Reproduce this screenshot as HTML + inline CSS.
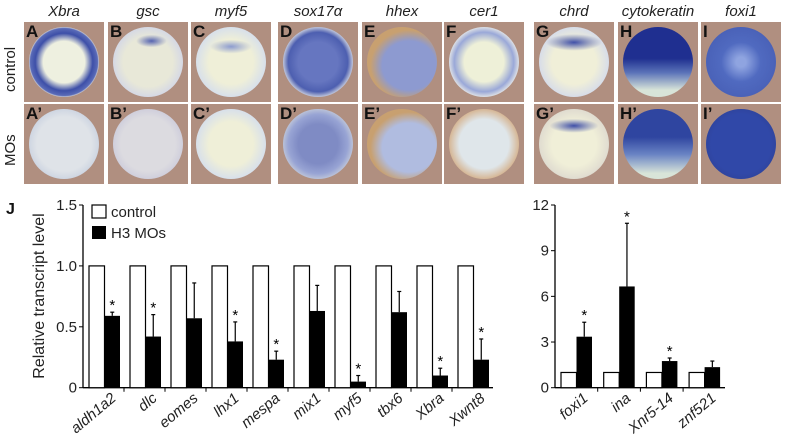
<!DOCTYPE html>
<html><head><meta charset="utf-8"><style>
body{margin:0;background:#fff;width:785px;height:439px;overflow:hidden;position:relative;font-family:"Liberation Sans",sans-serif}
.t{position:absolute;font-style:italic;font-size:15px;color:#222;top:3px;text-align:center;width:84px}
.p{position:absolute;width:80px;height:80px;background:#b08f80;overflow:hidden}
.e{position:absolute;border-radius:50%}
.l{position:absolute;left:2px;top:0;font-weight:bold;font-size:17px;color:#111}
.rl{position:absolute;font-size:15px;color:#222;transform:rotate(-90deg);transform-origin:left top}
</style></head><body>
<div class="rl" style="left:2px;top:92px">control</div>
<div class="rl" style="left:2px;top:166px">MOs</div>
<div id="photos"></div>
<svg id="ch" width="785" height="439" style="position:absolute;left:0;top:0"></svg>
<script>
const cols=[
 {x:24,n:"Xbra",L:"A",a:"radial-gradient(circle,#eef0e0 0 42%,#3d4fa8 58%,#5a6bb8 68%,#ddd 71%)",b:"radial-gradient(circle,#dfe3e8 0 55%,#cfd6e2 70%)"},
 {x:108,n:"gsc",L:"B",a:"radial-gradient(ellipse 22% 9% at 55% 20%,#5563b0,transparent),radial-gradient(circle,#e8e8d8 0 50%,#d6d9e4 70%)",b:"radial-gradient(circle,#dcdbe0 0 55%,#d0cfdc 70%)"},
 {x:191,n:"myf5",L:"C",a:"radial-gradient(ellipse 30% 10% at 50% 28%,#8d9ccf,transparent),radial-gradient(circle,#efefd8 0 45%,#d8e0ea 70%)",b:"radial-gradient(circle,#efefd8 0 45%,#d8e0ea 70%)"},
 {x:278,n:"sox17α",L:"D",a:"radial-gradient(circle,#6676c0 0 40%,#4d5fb0 60%,#b8bfd8 70%)",b:"radial-gradient(circle,#7f8bc4 0 40%,#98a4d4 60%,#b8c0d8 70%)"},
 {x:362,n:"hhex",L:"E",a:"radial-gradient(ellipse at 60% 55%,#8d9ad0 0 45%,#c8a070 65%)",b:"radial-gradient(ellipse at 60% 55%,#b0bce0 0 45%,#c8a070 65%)"},
 {x:444,n:"cer1",L:"F",a:"radial-gradient(circle,#eef0d8 0 40%,#9aa8d8 60%,#d8dce4 70%)",b:"radial-gradient(circle,#dfe6ea 0 50%,#d6b898 70%)"},
 {x:534,n:"chrd",L:"G",a:"radial-gradient(ellipse 40% 12% at 50% 22%,#4050a8,transparent),radial-gradient(circle,#f0efd8 0 45%,#d8dde8 70%)",b:"radial-gradient(ellipse 35% 10% at 50% 24%,#4050a8,transparent),radial-gradient(circle,#f0efd8 0 45%,#e0dcd0 70%)"},
 {x:618,n:"cytokeratin",L:"H",a:"linear-gradient(#1f2f90 0 45%,#5a72b8 65%,#d8e4d8 90%)",b:"linear-gradient(#2f45a0 0 40%,#6a84c4 65%,#d8e4d8 92%)"},
 {x:701,n:"foxi1",L:"I",a:"radial-gradient(circle,#8fa4e0 0 10%,#506ac0 40%,#4a62b8 70%)",b:"radial-gradient(circle,#3048a8 0 60%,#2f45a0 70%)"}
];
const ph=document.getElementById('photos');
cols.forEach(c=>{
 const t=document.createElement('div');t.className='t';t.style.left=(c.x-2)+'px';t.textContent=c.n;
 
 
 ph.appendChild(t);
 [[22,c.a,c.L],[104,c.b,c.L+"’"]].forEach(r=>{
  const p=document.createElement('div');p.className='p';p.style.left=c.x+'px';p.style.top=r[0]+'px';
  
  
  p.innerHTML='<div class="e" style="left:5px;top:5px;width:70px;height:70px;background:'+r[1]+'"></div><div class="l">'+r[2]+'</div>';
  ph.appendChild(p);
 });
});
</script>
<script>
const leftGenes=["aldh1a2","dlc","eomes","lhx1","mespa","mix1","myf5","tbx6","Xbra","Xwnt8"];
const leftCtrl=[1,1,1,1,1,1,1,1,1,1];
const leftMO=[0.59,0.42,0.57,0.38,0.23,0.63,0.05,0.62,0.10,0.23];
const leftErr=[0.62,0.60,0.86,0.54,0.30,0.84,0.10,0.79,0.16,0.40];
const leftSig=[1,1,0,1,1,0,1,0,1,1];
const leftTicks=[0,0.5,1.0,1.5];
const leftTickLabels=["0","0.5","1.0","1.5"];
const rightGenes=["foxi1","ina","Xnr5-14","znf521"];
const rightCtrl=[1,1,1,1];
const rightMO=[3.35,6.65,1.75,1.35];
const rightErr=[4.3,10.8,1.95,1.75];
const rightSig=[1,1,1,0];
const rightTicks=[0,3,6,9,12];
const rightTickLabels=["0","3","6","9","12"];
const NS="http://www.w3.org/2000/svg",svg=document.getElementById('ch');
function el(tag,at,txt){const e=document.createElementNS(NS,tag);for(const k in at)e.setAttribute(k,at[k]);if(txt!=null)e.textContent=txt;svg.appendChild(e);return e;}
function chart(o){
 const y=v=>o.y0-(v/o.max)*(o.y0-o.yTop);
 const x0=o.ax,gx=i=>x0+o.pad+i*o.pitch;
 let a=el('line',{x1:x0,y1:o.yTop,x2:x0,y2:o.y0,stroke:'#000','stroke-width':1.3});
 
 a=el('line',{x1:x0,y1:o.y0,x2:o.axEnd,y2:o.y0,stroke:'#000','stroke-width':1.3});
 
 o.ticks.forEach((t,i)=>{
  el('line',{x1:x0-4,y1:y(t),x2:x0,y2:y(t),stroke:'#000'});
  const tl=el('text',{x:x0-6,y:y(t)+5,'text-anchor':'end','font-size':15,fill:'#222'},o.tickLabels[i]);
  
 });
 o.genes.forEach((g,i)=>{
  const gx0=gx(i);
  if(i>0) el('line',{x1:gx0-o.pad,y1:o.y0,x2:gx0-o.pad,y2:o.y0+4,stroke:'#000'});
  const c=el('rect',{x:gx0,y:y(o.ctrl[i]),width:o.bw,height:o.y0-y(o.ctrl[i]),fill:'#fff',stroke:'#000','stroke-width':1.2});
  
  const m=el('rect',{x:gx0+o.bw,y:y(o.mo[i]),width:o.bw,height:o.y0-y(o.mo[i]),fill:'#000'});
  
  const cx=gx0+o.bw*1.5;
  el('line',{x1:cx,y1:y(o.err[i]),x2:cx,y2:y(o.mo[i]),stroke:'#000','stroke-width':1.2});
  el('line',{x1:cx-2,y1:y(o.err[i]),x2:cx+2,y2:y(o.err[i]),stroke:'#000','stroke-width':1.2});
  if(o.sig[i]){const s=el('text',{x:cx,y:y(o.err[i])-2,'text-anchor':'middle','font-size':15,fill:'#000'},'*');
   }
  const lx=gx0+o.bw*1.8,ly=o.y0+12;
  const lt=el('text',{x:lx,y:ly,'text-anchor':'end','font-size':15,'font-style':'italic',fill:'#222',transform:`rotate(-40 ${lx} ${ly})`},g);
  
 });
}
chart({ax:83,axEnd:493,y0:387.7,yTop:205,max:1.5,pad:6,pitch:41,bw:15.5,genes:leftGenes,ctrl:leftCtrl,mo:leftMO,err:leftErr,sig:leftSig,ticks:leftTicks,tickLabels:leftTickLabels});
chart({ax:555,axEnd:725,y0:387.7,yTop:205,max:12,pad:6,pitch:42.7,bw:15.5,genes:rightGenes,ctrl:rightCtrl,mo:rightMO,err:rightErr,sig:rightSig,ticks:rightTicks,tickLabels:rightTickLabels});
let t=el('text',{x:6,y:214,'font-size':16,'font-weight':'bold',fill:'#111'},'J');

t=el('text',{x:44,y:296,'text-anchor':'middle','font-size':16,fill:'#222',transform:'rotate(-90 44 296)'},'Relative transcript level');

let r=el('rect',{x:92,y:205,width:14,height:13,fill:'#fff',stroke:'#000','stroke-width':1.2});

t=el('text',{x:111,y:217,'font-size':15,fill:'#222'},'control');

r=el('rect',{x:92,y:226,width:14,height:13,fill:'#000'});

t=el('text',{x:111,y:238,'font-size':15,fill:'#222'},'H3 MOs');

</script>
</body></html>
